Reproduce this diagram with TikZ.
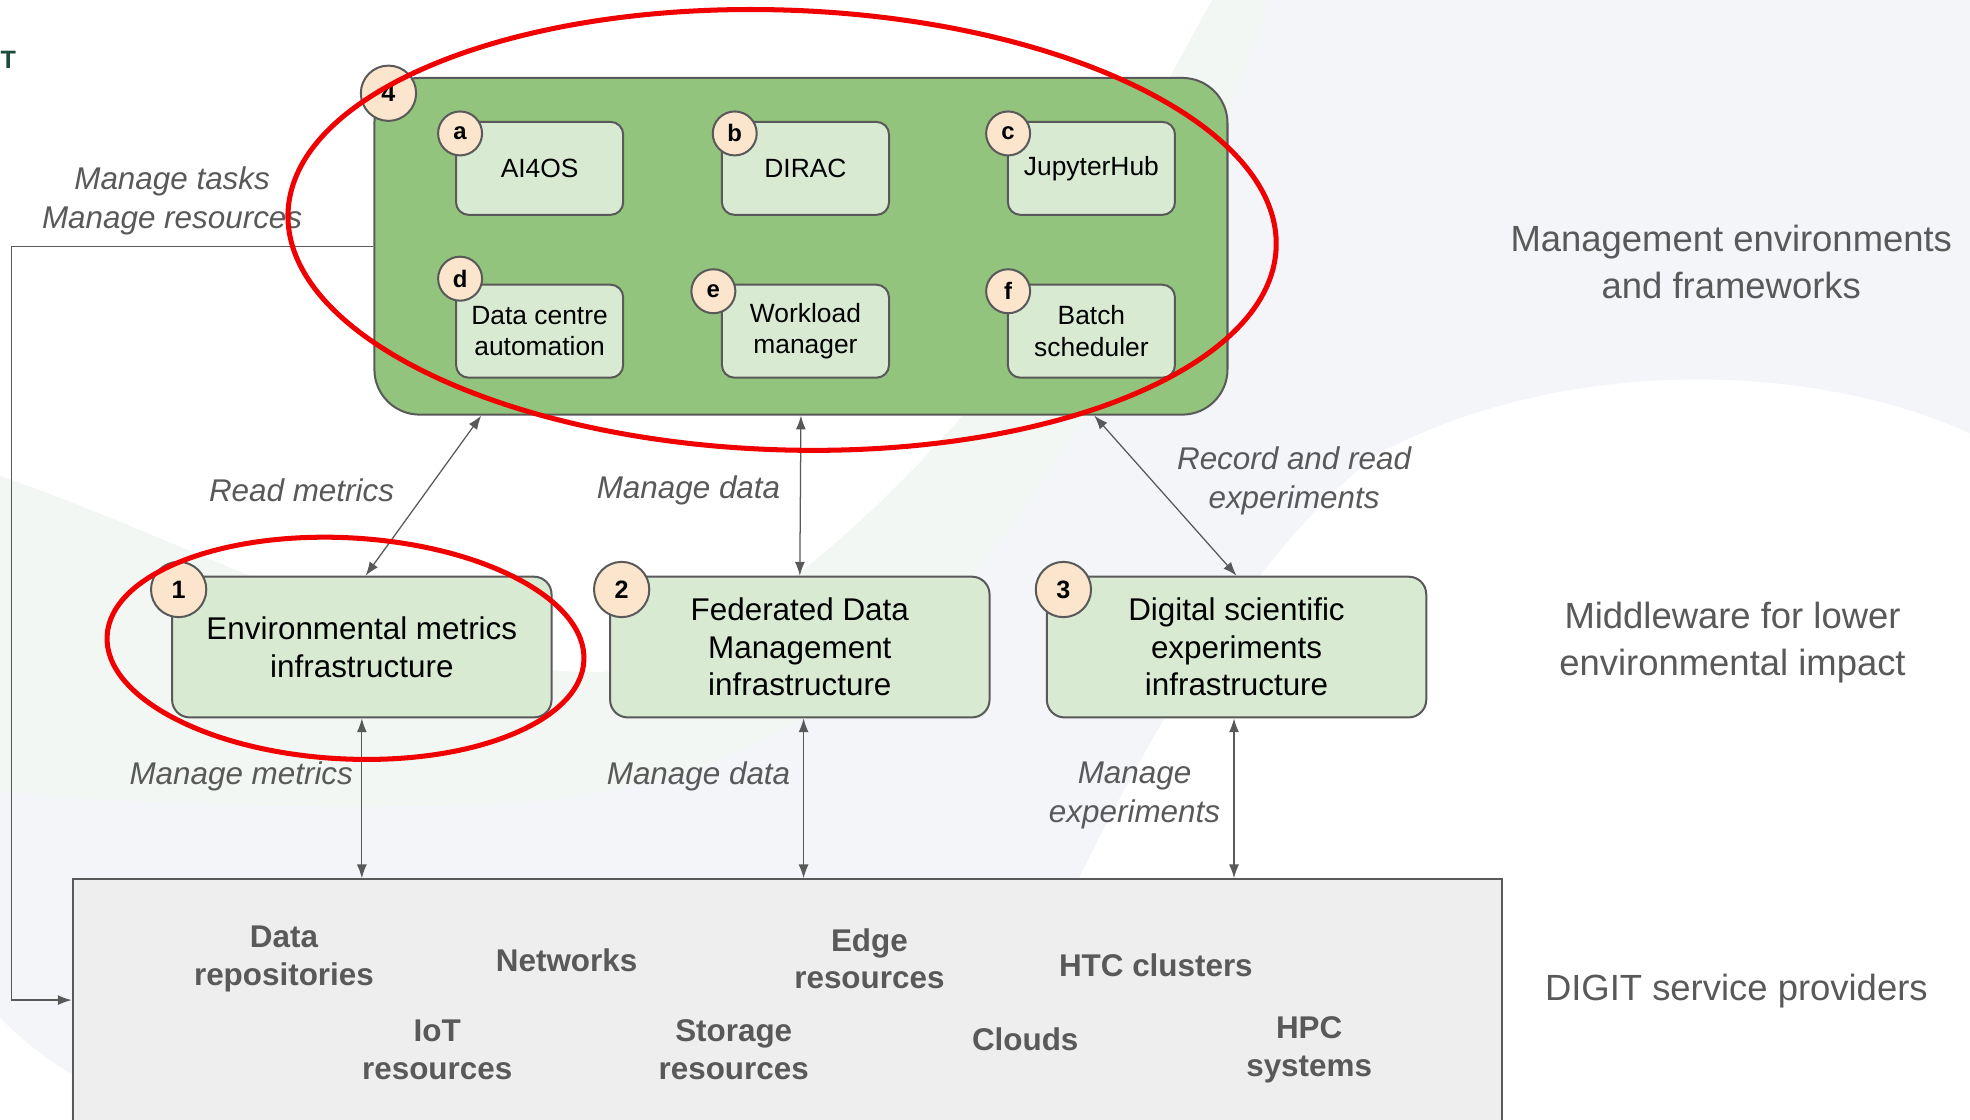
\documentclass[tikz,border=0pt]{standalone}
\usepackage{fontspec}
\setmainfont{Liberation Sans}
\usetikzlibrary{arrows.meta,calc,positioning}
\definecolor{linegrey}{HTML}{595959}
\definecolor{framegreen}{HTML}{93C47D}
\definecolor{toolgreen}{HTML}{D9EAD3}
\definecolor{numpeach}{HTML}{FCE5CD}
\definecolor{providergrey}{HTML}{EEEEEE}
\definecolor{ringred}{HTML}{F00000}
\definecolor{bandblue}{HTML}{F3F5F9}
\definecolor{bandgreen}{HTML}{F2F7F3}
\definecolor{logogreen}{HTML}{1B4D3E}
\begin{document}
\begin{tikzpicture}[x=0.5pt,y=-0.5pt,>={Latex[length=5.5pt,width=4pt]}]
	\tikzstyle{tool} = [draw=linegrey, line width=0.8pt, fill=toolgreen, rounded corners=5pt, minimum width=66.5pt, minimum height=37pt, align=center, font=\fontsize{10.5}{12.5}\selectfont]
	\tikzstyle{mid} = [draw=linegrey, line width=0.8pt, fill=toolgreen, rounded corners=7pt, minimum width=151pt, minimum height=56pt, align=center, font=\fontsize{12.5}{15}\selectfont]
	\tikzstyle{num} = [draw=linegrey, line width=0.8pt, fill=numpeach, circle, inner sep=0pt, minimum size=22pt, font=\bfseries\fontsize{10}{12}\selectfont]
	\tikzstyle{letter} = [num, minimum size=17.5pt, font=\bfseries\fontsize{9.5}{11}\selectfont]
	\tikzstyle{flow} = [<->, draw=linegrey, line width=0.5pt]
	\tikzstyle{flowlabel} = [text=linegrey, align=center, font=\itshape\fontsize{12.5}{15.5}\selectfont]
	\tikzstyle{layer} = [text=linegrey, align=center, font=\fontsize{14.5}{18.5}\selectfont]
	\tikzstyle{resource} = [text=linegrey, align=center, font=\bfseries\fontsize{12.5}{15}\selectfont]
	\tikzstyle{ring} = [draw=ringred, line width=2pt]
	
	\useasboundingbox (0,0) rectangle (1568,891);
	\fill [white] (0,0) rectangle (1568,891);
	
	\fill [bandblue] (0,379) .. controls (150,430) and (350,540) .. (478,535) .. controls (560,530) and (680,430) .. (767,330) .. controls (850,220) and (920,80) .. (965,0) -- (1568,0) -- (1568,345) .. controls (1450,290) and (1250,280) .. (1097,361) .. controls (980,450) and (880,650) .. (830,760) -- (800,891) -- (57,891) -- (57,855) .. controls (40,845) and (20,830) .. (0,810) -- cycle;
	\fill [bandgreen] (0,379) .. controls (150,430) and (350,540) .. (478,535) .. controls (560,530) and (680,430) .. (767,330) .. controls (850,220) and (920,80) .. (965,0) -- (1010,0) .. controls (960,150) and (880,330) .. (780,450) .. controls (680,570) and (560,630) .. (400,640) .. controls (250,645) and (100,640) .. (0,630) -- cycle;
	
	\node [text=logogreen, anchor=west, inner sep=0pt, font=\bfseries\fontsize{10}{12}\selectfont] (logo) at (0,48) {T};
	
	\node [draw=linegrey, line width=0.8pt, fill=framegreen, rounded corners=18pt, minimum width=339.5pt, minimum height=134pt] (mgmt) at (637.5,196) {};
	\node [num] (n4) at ([xshift=6pt, yshift=-6.5pt]mgmt.north west) {4};
	
	\node [tool] (ai4os) at (429.5,134) {AI4OS};
	\node [tool, right = 38.5pt of ai4os] (dirac) {DIRAC};
	\node [tool, right = 46.5pt of dirac] (jhub) {JupyterHub};
	\node [tool, below = 27pt of ai4os] (dca) {Data centre\\automation};
	\node [tool, below = 27pt of dirac] (wlm) {Workload\\manager};
	\node [tool, below = 27pt of jhub] (batch) {Batch\\scheduler};
	
	\node [letter] (na) at ([xshift=2pt, yshift=-5pt]ai4os.north west) {a};
	\node [letter] (nb) at ([xshift=5.5pt, yshift=-5pt]dirac.north west) {b};
	\node [letter] (nc) at ([xshift=0.5pt, yshift=-5pt]jhub.north west) {c};
	\node [letter] (nd) at ([xshift=2pt, yshift=2pt]dca.north west) {d};
	\node [letter] (ne) at ([xshift=-3pt, yshift=-3pt]wlm.north west) {e};
	\node [letter] (nf) at ([xshift=0.5pt, yshift=-3pt]batch.north west) {f};
	
	\node [mid] (envm) at (288,515) {Environmental metrics\\infrastructure};
	\node [mid, right = 22.5pt of envm] (fdm) {Federated Data\\Management\\infrastructure};
	\node [mid, right = 22pt of fdm] (dse) {Digital scientific\\experiments\\infrastructure};
	\node [num] (n1) at ([xshift=3pt, yshift=-5.5pt]envm.north west) {1};
	\node [num] (n2) at ([xshift=5pt, yshift=-5.5pt]fdm.north west) {2};
	\node [num] (n3) at ([xshift=7pt, yshift=-5.5pt]dse.north west) {3};
	
	\node [draw=linegrey, line width=0.8pt, fill=providergrey, minimum width=569pt, minimum height=100pt, anchor=north west] (sp) at (57,699) {};
	
	\node [resource] (repo) at (226,763) {Data\\repositories};
	\node [resource] (net) at (451,764) {Networks};
	\node [resource] (edge) at (692,763) {Edge\\resources};
	\node [resource] (htc) at (920,768) {HTC clusters};
	\node [resource] (iot) at (348,835.5) {IoT\\resources};
	\node [resource] (stor) at (584,835.5) {Storage\\resources};
	\node [resource] (cloud) at (816,827) {Clouds};
	\node [resource] (hpc) at (1042,835.5) {HPC\\systems};
	
	\draw [flow] ([xshift=-127.25pt]mgmt.south) -- ([xshift=1.5pt]envm.north);
	\draw [flow] (mgmt.south) -- (fdm.north);
	\draw [flow] ([xshift=116.75pt]mgmt.south) -- (dse.north);
	\draw [flow] (envm.south) -- (envm.south |- sp.north);
	\draw [flow] ([xshift=1.5pt]fdm.south) -- ([xshift=1.5pt]fdm.south |- sp.north);
	\draw [flow] ([xshift=-1pt]dse.south) -- ([xshift=-1pt]dse.south |- sp.north);
	\coordinate (back) at (9,796);
	\draw [->, draw=linegrey, line width=0.5pt] (mgmt.west) -| (back) -- (back -| sp.west);
	
	\node [flowlabel] (ltasks) at (137,159.5) {Manage tasks\\Manage resources};
	\node [flowlabel] (lread) at (240,390) {Read metrics};
	\node [flowlabel] (ldata) at (548,390) {Manage data};
	\node [flowlabel] (lrec) at (1030,383) {Record and read\\experiments};
	\node [flowlabel] (lmet) at (192,618) {Manage metrics};
	\node [flowlabel] (ldata2) at (556,618) {Manage data};
	\node [flowlabel] (lexp) at (903,633) {Manage\\experiments};
	
	\node [layer] (top) at (1378,208.5) {Management environments\\and frameworks};
	\node [layer] (middle) at (1379,511.5) {Middleware for lower\\environmental impact};
	\node [layer] (bottom) at (1382,789) {DIGIT service providers};
	
	\draw [ring, rotate around={-2:(622.5,183)}] (622.5,183) ellipse [x radius=196.75pt, y radius=87.5pt];
	\draw [ring, rotate around={-3:(275,516)}] (275,516) ellipse [x radius=95pt, y radius=44pt];
	
\end{tikzpicture}
\end{document}
